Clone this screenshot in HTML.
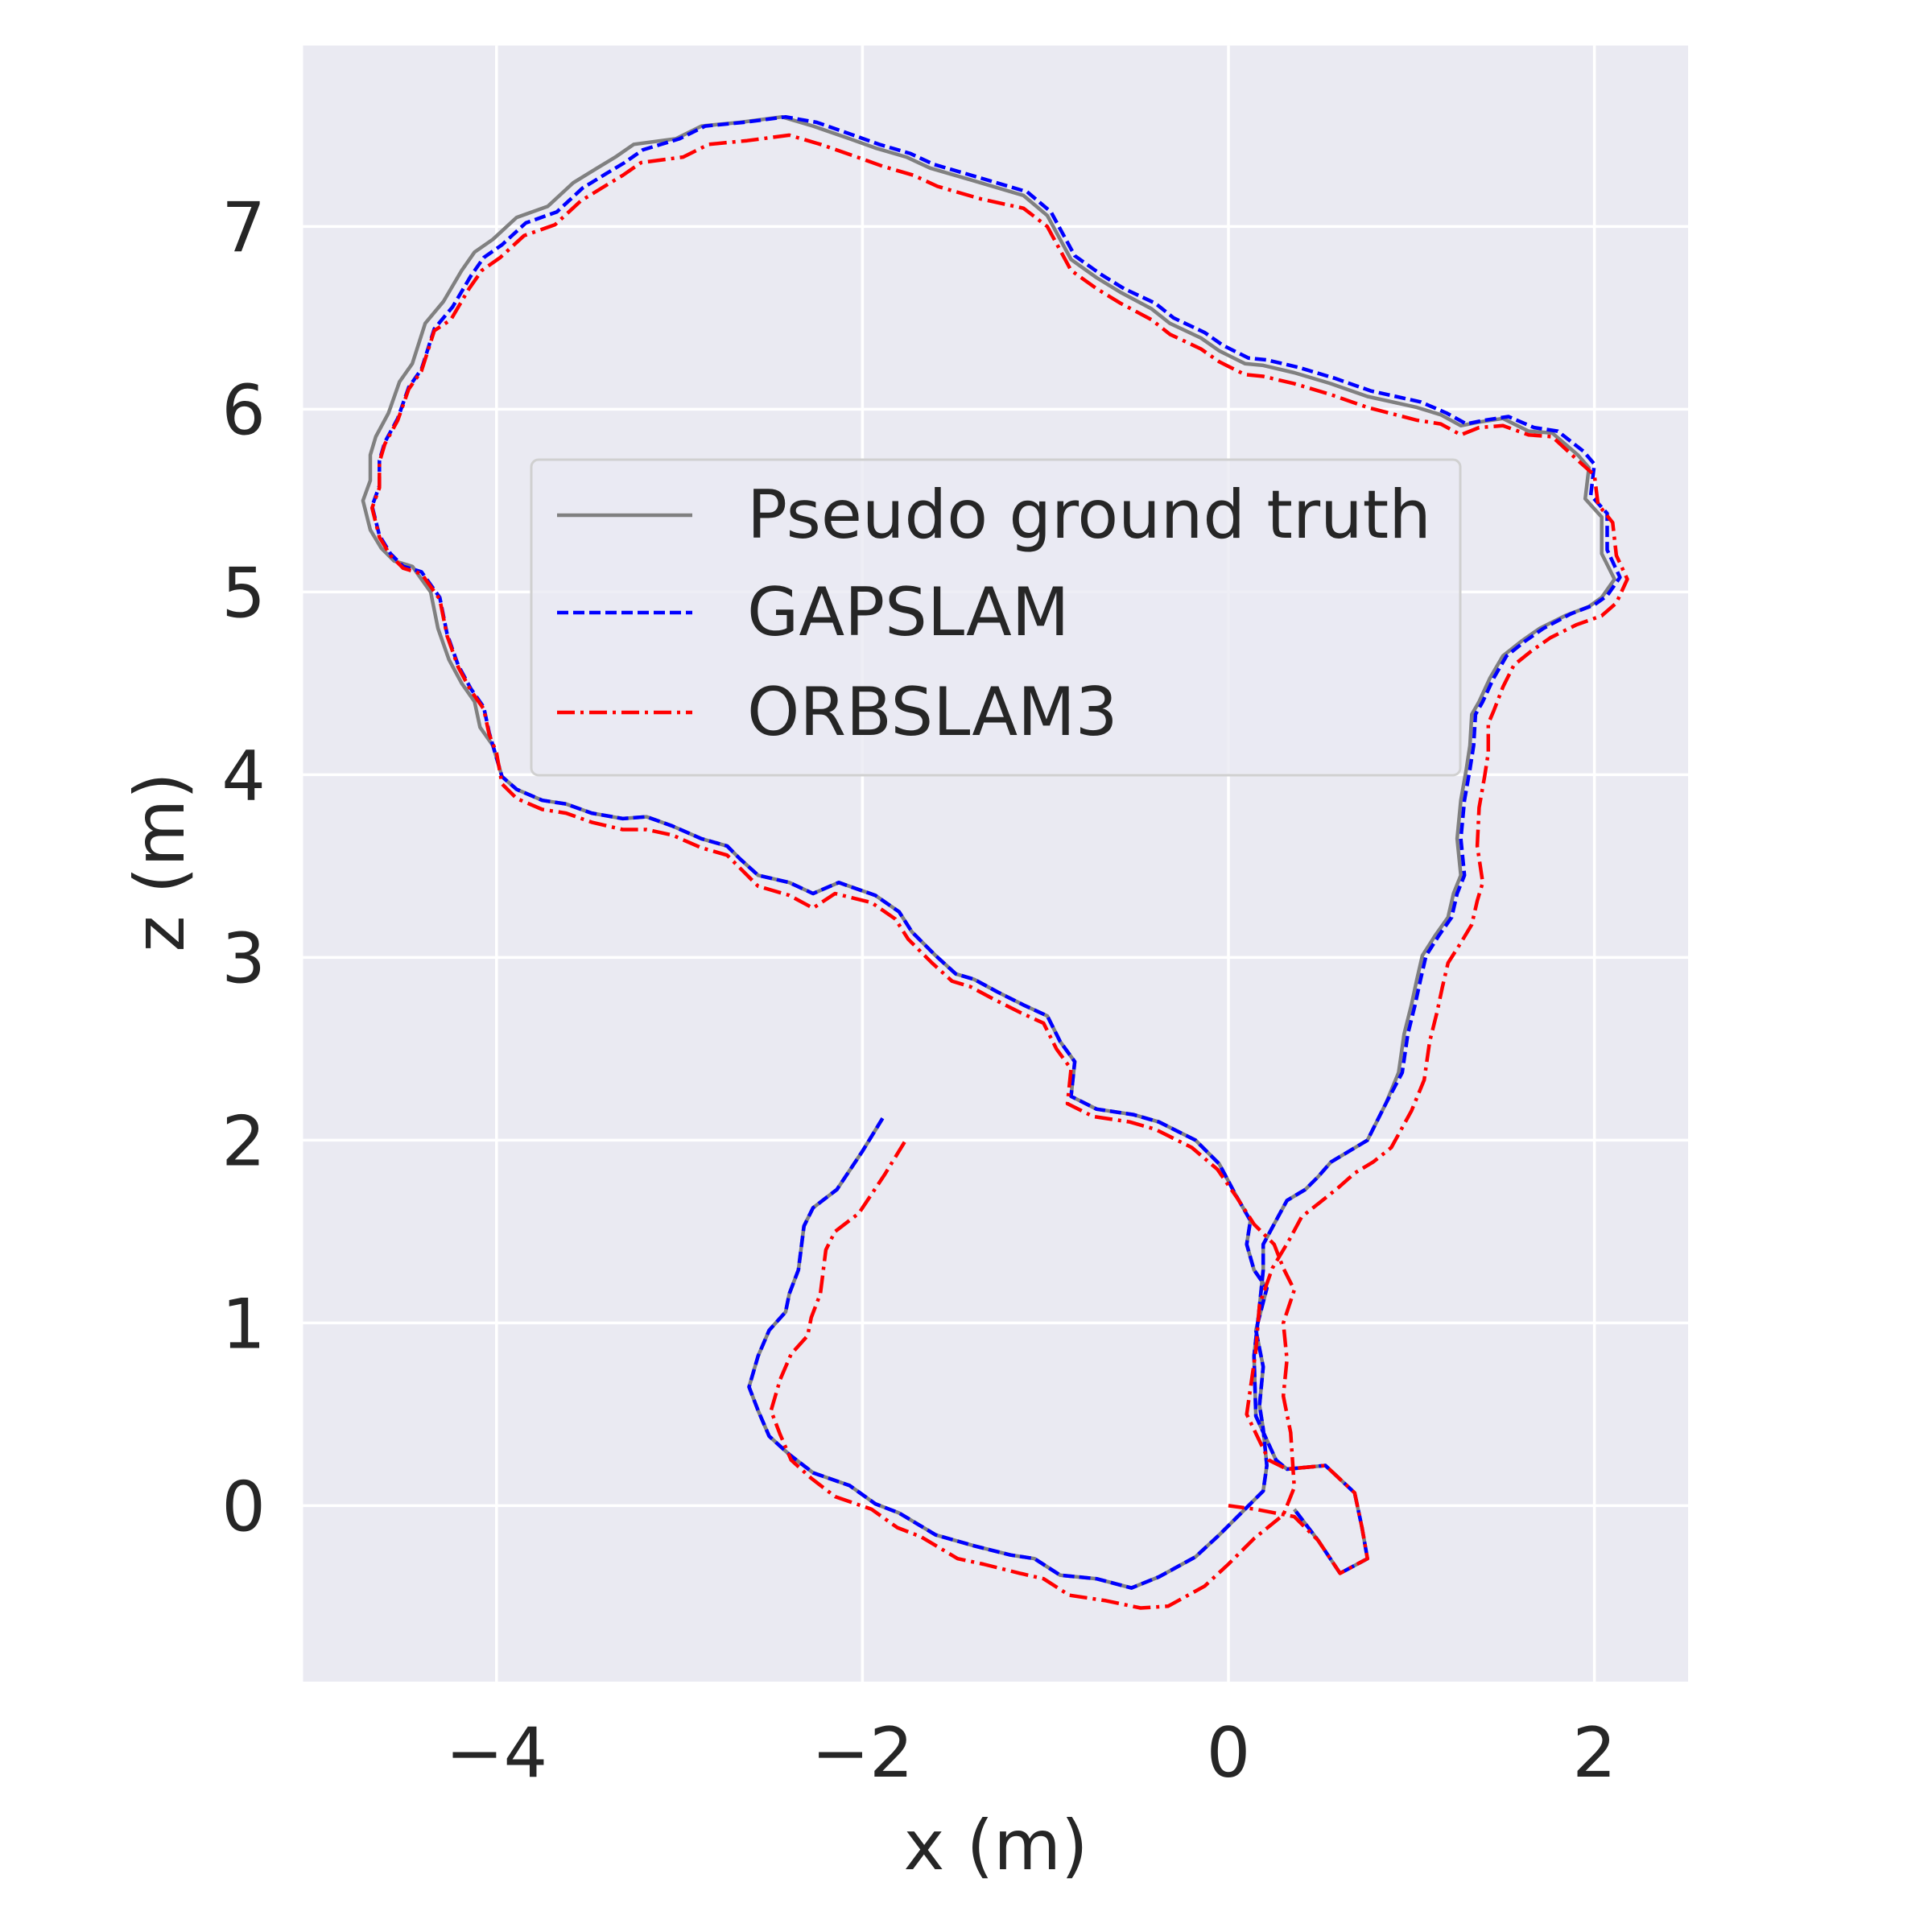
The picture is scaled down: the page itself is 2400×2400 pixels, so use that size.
<!DOCTYPE html>
<html><head><meta charset="utf-8"><style>
html,body{margin:0;padding:0;background:#fff;}
svg{display:block;}
text{font-family:"DejaVu Sans","Liberation Sans",sans-serif;fill:#262626;}
</style></head><body>
<svg id="chart" width="2400" height="2400" viewBox="0 0 2400 2400" xmlns="http://www.w3.org/2000/svg">
<rect x="376.5" y="56.6" width="1720.5" height="2032.4" fill="#eaeaf2"/>
<g id="grid"></g>
<g id="ticks"></g>
<g id="series"></g>
<text x="1237" y="2322" font-size="86" text-anchor="middle">x (m)</text>
<text x="0" y="0" font-size="86" text-anchor="middle" transform="translate(228,1071) rotate(-90)">z (m)</text>
<g>
<rect x="660" y="571" width="1154" height="392" rx="9" fill="#eaeaf2" fill-opacity="0.8" stroke="#d0d0d0" stroke-width="3"/>
<g>
<line x1="692" y1="640" x2="860" y2="640" stroke="#808080" stroke-width="4.5"/>
<text x="928" y="668" font-size="83">Pseudo ground truth</text></g>
<g>
<line x1="692" y1="761" x2="860" y2="761" stroke="#0000ff" stroke-width="4.5" stroke-dasharray="14,6"/>
<text x="928" y="789" font-size="83">GAPSLAM</text></g>
<g>
<line x1="692" y1="885" x2="860" y2="885" stroke="#ff0000" stroke-width="4.5" stroke-dasharray="22,7,4,7"/>
<text x="928" y="913" font-size="83">ORBSLAM3</text></g>
</g>
</svg>
<script>
const xTicks=[-4,-2,0,2];
const xTickLabels=["\u22124","\u22122","0","2"];
const zTicks=[0,1,2,3,4,5,6,7];
const zTickLabels=["0","1","2","3","4","5","6","7"];
const gtX=[-1.89,-2.00,-2.14,-2.27,-2.32,-2.35,-2.40,-2.42,-2.51,-2.57,-2.62,-2.57,-2.51,-2.40,-2.27,-2.07,-1.93,-1.80,-1.60,-1.39,-1.19,-1.06,-0.92,-0.72,-0.53,-0.38,-0.18,-0.05,0.09,0.19,0.21,0.19,0.17,0.19,0.15,0.21,0.14,0.10,0.12,0.04,-0.05,-0.18,-0.38,-0.52,-0.72,-0.86,-0.84,-0.92,-0.99,-1.12,-1.26,-1.39,-1.49,-1.60,-1.73,-1.80,-1.93,-2.13,-2.27,-2.40,-2.57,-2.67,-2.74,-2.88,-3.04,-3.18,-3.31,-3.48,-3.62,-3.75,-3.89,-3.97,-4.02,-4.09,-4.12,-4.19,-4.26,-4.32,-4.36,-4.46,-4.56,-4.63,-4.69,-4.73,-4.69,-4.69,-4.66,-4.59,-4.53,-4.46,-4.39,-4.29,-4.19,-4.12,-4.02,-3.89,-3.72,-3.58,-3.45,-3.35,-3.25,-3.02,-2.88,-2.67,-2.44,-2.27,-2.07,-1.93,-1.76,-1.63,-1.39,-1.12,-0.99,-0.86,-0.72,-0.59,-0.42,-0.32,-0.15,-0.05,0.09,0.19,0.36,0.56,0.76,1.03,1.16,1.27,1.37,1.50,1.64,1.77,1.91,1.97,1.95,2.04,2.04,2.11,2.04,1.97,1.84,1.70,1.60,1.50,1.43,1.37,1.33,1.32,1.30,1.27,1.25,1.27,1.23,1.20,1.13,1.06,1.03,1.00,0.96,0.93,0.86,0.76,0.66,0.56,0.49,0.42,0.32,0.26,0.19,0.19,0.17,0.14,0.15,0.26,0.32,0.53,0.69,0.73,0.76,0.61,0.49,0.36];
const gtZ=[2.12,1.94,1.73,1.63,1.53,1.29,1.16,1.06,0.96,0.82,0.65,0.52,0.38,0.28,0.18,0.11,0.01,-0.04,-0.16,-0.22,-0.27,-0.29,-0.38,-0.40,-0.45,-0.39,-0.28,-0.16,-0.02,0.08,0.22,0.42,0.55,0.76,0.96,1.19,1.29,1.43,1.56,1.70,1.87,2.00,2.10,2.14,2.17,2.24,2.43,2.54,2.68,2.74,2.81,2.88,2.91,3.01,3.14,3.25,3.34,3.41,3.35,3.41,3.45,3.54,3.61,3.65,3.72,3.77,3.76,3.79,3.84,3.86,3.92,3.99,4.16,4.26,4.40,4.50,4.63,4.80,5.00,5.14,5.17,5.24,5.34,5.50,5.61,5.75,5.85,5.98,6.15,6.25,6.47,6.59,6.76,6.86,6.93,7.05,7.11,7.24,7.32,7.38,7.45,7.48,7.55,7.57,7.60,7.55,7.48,7.43,7.38,7.32,7.25,7.17,7.06,6.82,6.72,6.64,6.55,6.47,6.39,6.32,6.25,6.24,6.20,6.14,6.07,6.01,5.97,5.91,5.93,5.95,5.88,5.87,5.75,5.68,5.51,5.41,5.21,5.07,4.97,4.92,4.87,4.80,4.73,4.65,4.53,4.40,4.33,4.16,4.03,3.86,3.65,3.45,3.35,3.22,3.12,3.01,2.88,2.74,2.58,2.37,2.20,2.00,1.94,1.88,1.80,1.73,1.67,1.56,1.43,1.29,1.09,0.82,0.49,0.25,0.20,0.22,0.07,-0.12,-0.29,-0.37,-0.19,-0.02];
const gapX=[-1.89,-2.00,-2.14,-2.27,-2.32,-2.35,-2.40,-2.42,-2.51,-2.57,-2.62,-2.57,-2.51,-2.40,-2.27,-2.07,-1.93,-1.80,-1.60,-1.39,-1.19,-1.06,-0.92,-0.72,-0.53,-0.38,-0.18,-0.05,0.09,0.19,0.21,0.19,0.17,0.19,0.15,0.21,0.14,0.10,0.12,0.04,-0.05,-0.18,-0.38,-0.52,-0.72,-0.86,-0.84,-0.92,-0.99,-1.12,-1.26,-1.39,-1.49,-1.60,-1.73,-1.80,-1.93,-2.13,-2.27,-2.40,-2.57,-2.67,-2.74,-2.88,-3.04,-3.18,-3.31,-3.48,-3.62,-3.75,-3.89,-3.97,-4.02,-4.04,-4.07,-4.14,-4.21,-4.27,-4.31,-4.41,-4.51,-4.58,-4.64,-4.68,-4.64,-4.64,-4.61,-4.54,-4.48,-4.41,-4.34,-4.24,-4.14,-4.07,-3.97,-3.84,-3.67,-3.53,-3.40,-3.30,-3.20,-3.00,-2.86,-2.65,-2.42,-2.25,-2.05,-1.91,-1.74,-1.61,-1.37,-1.10,-0.97,-0.84,-0.70,-0.57,-0.40,-0.30,-0.13,-0.03,0.11,0.21,0.38,0.58,0.78,1.05,1.19,1.30,1.40,1.53,1.67,1.80,1.94,2.00,1.98,2.07,2.07,2.14,2.07,2.00,1.87,1.72,1.62,1.52,1.45,1.39,1.35,1.34,1.32,1.29,1.27,1.29,1.25,1.22,1.15,1.08,1.05,1.02,0.98,0.95,0.86,0.76,0.66,0.56,0.49,0.42,0.32,0.26,0.19,0.19,0.17,0.14,0.15,0.26,0.32,0.53,0.69,0.73,0.76,0.61,0.49,0.36];
const gapZ=[2.12,1.94,1.73,1.63,1.53,1.29,1.16,1.06,0.96,0.82,0.65,0.52,0.38,0.28,0.18,0.11,0.01,-0.04,-0.16,-0.22,-0.27,-0.29,-0.38,-0.40,-0.45,-0.39,-0.28,-0.16,-0.02,0.08,0.22,0.42,0.55,0.76,0.96,1.19,1.29,1.43,1.56,1.70,1.87,2.00,2.10,2.14,2.17,2.24,2.43,2.54,2.68,2.74,2.81,2.88,2.91,3.01,3.14,3.25,3.34,3.41,3.35,3.41,3.45,3.54,3.61,3.65,3.72,3.77,3.76,3.79,3.84,3.86,3.92,3.99,4.16,4.23,4.37,4.47,4.60,4.77,4.97,5.11,5.14,5.21,5.31,5.47,5.58,5.72,5.82,5.95,6.12,6.22,6.44,6.56,6.73,6.83,6.90,7.02,7.08,7.21,7.29,7.35,7.42,7.48,7.55,7.57,7.60,7.57,7.50,7.45,7.40,7.34,7.27,7.19,7.08,6.84,6.74,6.66,6.58,6.50,6.42,6.35,6.28,6.27,6.23,6.17,6.10,6.04,5.98,5.92,5.94,5.96,5.90,5.88,5.77,5.70,5.53,5.43,5.23,5.08,4.98,4.93,4.88,4.80,4.73,4.65,4.53,4.40,4.33,4.16,4.03,3.86,3.65,3.45,3.35,3.22,3.12,3.01,2.88,2.74,2.58,2.37,2.20,2.00,1.94,1.88,1.80,1.73,1.67,1.56,1.43,1.29,1.09,0.82,0.49,0.25,0.20,0.22,0.07,-0.12,-0.29,-0.37,-0.19,-0.02];
const orbX=[-1.77,-1.88,-2.02,-2.15,-2.20,-2.23,-2.28,-2.30,-2.39,-2.45,-2.50,-2.45,-2.39,-2.28,-2.15,-1.95,-1.81,-1.68,-1.48,-1.34,-1.14,-1.01,-0.87,-0.67,-0.48,-0.33,-0.13,0.00,0.14,0.30,0.36,0.34,0.30,0.32,0.30,0.36,0.30,0.25,0.14,0.05,-0.06,-0.20,-0.40,-0.54,-0.74,-0.88,-0.86,-0.94,-1.01,-1.14,-1.28,-1.41,-1.51,-1.62,-1.75,-1.82,-1.95,-2.15,-2.27,-2.40,-2.57,-2.67,-2.74,-2.88,-3.04,-3.18,-3.31,-3.48,-3.62,-3.75,-3.89,-3.97,-4.00,-4.04,-4.07,-4.14,-4.21,-4.27,-4.31,-4.41,-4.51,-4.58,-4.64,-4.68,-4.64,-4.64,-4.61,-4.54,-4.48,-4.41,-4.34,-4.25,-4.15,-4.08,-3.98,-3.85,-3.68,-3.54,-3.41,-3.31,-3.21,-2.98,-2.84,-2.63,-2.40,-2.23,-2.03,-1.89,-1.72,-1.59,-1.35,-1.12,-0.99,-0.86,-0.72,-0.59,-0.42,-0.32,-0.15,-0.05,0.09,0.19,0.36,0.56,0.76,1.03,1.16,1.27,1.37,1.50,1.64,1.77,1.91,2.00,2.02,2.10,2.12,2.18,2.12,2.04,1.90,1.76,1.66,1.56,1.50,1.45,1.42,1.42,1.40,1.37,1.36,1.39,1.36,1.33,1.27,1.20,1.17,1.14,1.10,1.07,1.00,0.89,0.79,0.69,0.60,0.50,0.40,0.33,0.24,0.17,0.15,0.10,0.22,0.32,0.53,0.69,0.73,0.76,0.61,0.49,0.36,0.15,0.00];
const orbZ=[1.99,1.81,1.60,1.50,1.40,1.16,1.03,0.93,0.83,0.69,0.52,0.39,0.25,0.15,0.05,-0.02,-0.12,-0.17,-0.29,-0.32,-0.37,-0.40,-0.49,-0.52,-0.56,-0.55,-0.44,-0.32,-0.18,-0.05,0.10,0.40,0.60,0.80,1.00,1.18,1.30,1.43,1.54,1.68,1.84,1.96,2.06,2.10,2.13,2.20,2.39,2.50,2.64,2.70,2.77,2.84,2.87,2.97,3.10,3.21,3.30,3.35,3.27,3.34,3.39,3.49,3.56,3.60,3.67,3.70,3.70,3.74,3.79,3.81,3.87,3.95,4.12,4.22,4.36,4.46,4.59,4.76,4.96,5.10,5.13,5.20,5.30,5.46,5.57,5.71,5.81,5.94,6.11,6.21,6.43,6.49,6.66,6.76,6.83,6.95,7.01,7.14,7.22,7.28,7.35,7.38,7.45,7.47,7.50,7.45,7.38,7.33,7.28,7.22,7.15,7.10,7.00,6.76,6.66,6.58,6.49,6.41,6.33,6.26,6.19,6.18,6.14,6.08,6.01,5.94,5.92,5.86,5.90,5.91,5.86,5.85,5.72,5.64,5.48,5.38,5.20,5.07,4.94,4.87,4.82,4.75,4.68,4.60,4.48,4.35,4.28,4.12,3.99,3.82,3.61,3.41,3.31,3.18,3.08,2.97,2.84,2.70,2.54,2.33,2.16,1.96,1.88,1.82,1.74,1.66,1.58,1.45,1.30,1.10,0.85,0.50,0.25,0.20,0.22,0.07,-0.12,-0.29,-0.37,-0.19,-0.06,-0.02,0.00];

const NS='http://www.w3.org/2000/svg';
const L=376.5,R=2097,T=56.6,B=2089;
function X(v){return 1526+v*227.3;}
function Y(v){return 1870.4-v*227;}
const grid=document.getElementById('grid');
const ticks=document.getElementById('ticks');
xTicks.forEach((v,i)=>{
  const ln=document.createElementNS(NS,'line');
  
  
  ln.setAttribute('x1',X(v));ln.setAttribute('x2',X(v));ln.setAttribute('y1',T);ln.setAttribute('y2',B);
  ln.setAttribute('stroke','#fff');ln.setAttribute('stroke-width','3.5');
  grid.appendChild(ln);
  const t=document.createElementNS(NS,'text');
  
  
  t.setAttribute('x',X(v));t.setAttribute('y',2207);t.setAttribute('font-size','86');t.setAttribute('text-anchor','middle');
  t.textContent=xTickLabels[i];ticks.appendChild(t);
});
zTicks.forEach((v,i)=>{
  const ln=document.createElementNS(NS,'line');
  
  
  ln.setAttribute('x1',L);ln.setAttribute('x2',R);ln.setAttribute('y1',Y(v));ln.setAttribute('y2',Y(v));
  ln.setAttribute('stroke','#fff');ln.setAttribute('stroke-width','3.5');
  grid.appendChild(ln);
  const t=document.createElementNS(NS,'text');
  
  
  t.setAttribute('x',330);t.setAttribute('y',Y(v)+31);t.setAttribute('font-size','86');t.setAttribute('text-anchor','end');
  t.textContent=zTickLabels[i];ticks.appendChild(t);
});
const series=document.getElementById('series');
function drawLine(xs,zs,color,dash,name){
  const p=document.createElementNS(NS,'polyline');
  
  
  p.setAttribute('points',xs.map((x,i)=>X(x).toFixed(1)+','+Y(zs[i]).toFixed(1)).join(' '));
  p.setAttribute('fill','none');p.setAttribute('stroke',color);p.setAttribute('stroke-width','4.5');
  p.setAttribute('stroke-linejoin','round');
  if(dash)p.setAttribute('stroke-dasharray',dash);
  series.appendChild(p);
}
drawLine(gtX,gtZ,'#808080',null,'ground-truth-line');
drawLine(gapX,gapZ,'#0000ff','14,6','gapslam-line');
drawLine(orbX,orbZ,'#ff0000','22,7,4,7','orbslam3-line');
</script>
</body></html>
